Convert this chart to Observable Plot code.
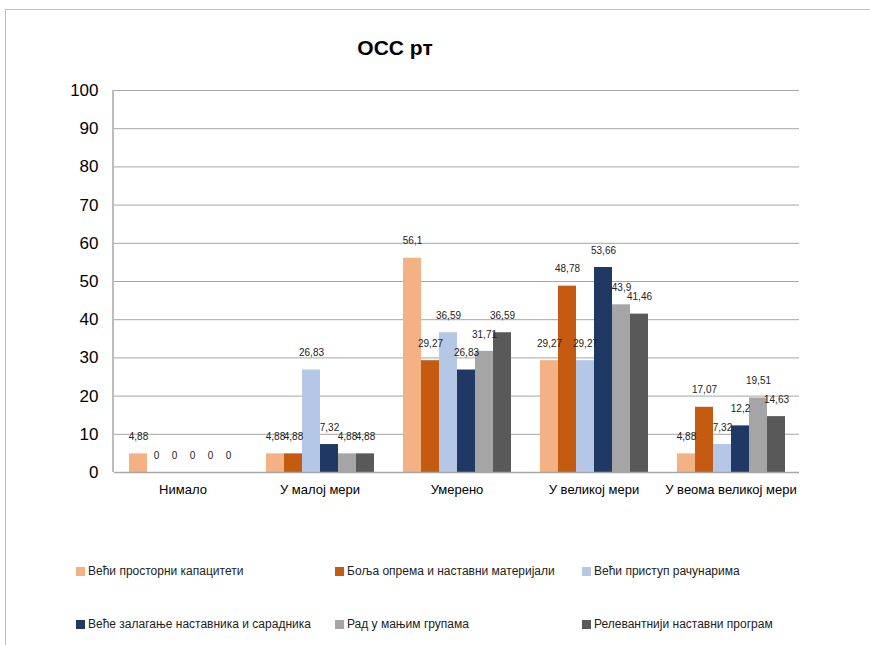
<!DOCTYPE html>
<html>
<head>
<meta charset="utf-8">
<script src="https://cdn.jsdelivr.net/npm/d3@7"></script>
<script src="https://cdn.jsdelivr.net/npm/@observablehq/plot@0.6"></script>
<style>
  html, body { margin: 0; padding: 0; background: #fff; }
  #wrap { position: relative; width: 870px; height: 645px; overflow: hidden; font-family: "Liberation Sans", Arial, sans-serif; }
  #border { position: absolute; left: 5px; top: 9px; right: -2px; bottom: -2px; border-top: 1px solid #BFBFBF; border-left: 1px solid #BFBFBF; }
  #title { position: absolute; left: 295px; width: 200px; top: 36px; text-align: center; font-weight: bold; font-size: 21px; color: #000; }
  #chart { position: absolute; left: 0; top: 0; }
  .leg { position: absolute; font-size: 12px; color: #222; white-space: nowrap; line-height: 14px; }
  .leg span.sw { display: inline-block; width: 9px; height: 9px; margin-right: 3px; vertical-align: -1px; }
</style>
</head>
<body>
<div id="wrap">
  <div id="border"></div>
  <div id="chart"></div>
  <div id="title">ОСС рт</div>
</div>
<script>
const categories = ["Нимало", "У малој мери", "Умерено", "У великој мери", "У веома великој мери"];
const seriesNames = [
  "Већи просторни капацитети",
  "Боља опрема и наставни материјали",
  "Већи приступ рачунарима",
  "Веће залагање наставника и сарадника",
  "Рад у мањим групама",
  "Релевантнији наставни програм"
];
const seriesColors = ["#F4B183", "#C55A11", "#B4C7E7", "#203864", "#A5A5A5", "#595959"];
const s1 = [4.88, 4.88, 56.1, 29.27, 4.88];
const s2 = [0, 4.88, 29.27, 48.78, 17.07];
const s3 = [0, 26.83, 36.59, 29.27, 7.32];
const s4 = [0, 7.32, 26.83, 53.66, 12.2];
const s5 = [0, 4.88, 31.71, 43.9, 19.51];
const s6 = [0, 4.88, 36.59, 41.46, 14.63];
const yTicks = [0, 10, 20, 30, 40, 50, 60, 70, 80, 90, 100];

const seriesValues = [s1, s2, s3, s4, s5, s6];
const data = [];
categories.forEach((c, i) => {
  seriesNames.forEach((s, j) => {
    data.push({cat: c, series: s, value: seriesValues[j][i]});
  });
});

const chart = Plot.plot({
  width: 870,
  height: 645,
  marginLeft: 113,
  marginRight: 70,
  marginTop: 90,
  marginBottom: 173,
  style: {fontFamily: '"Liberation Sans", Arial, sans-serif', background: "transparent", color: "#000"},
  fx: {domain: categories, padding: 0, label: null, axis: "bottom", tickSize: 0, tickPadding: 12, fontSize: 13},
  x: {domain: seriesNames, paddingInner: 0, paddingOuter: 0.78, axis: null},
  y: {domain: [0, 100], ticks: yTicks, label: null, tickSize: 0, tickPadding: 16, fontSize: 17, grid: false},
  color: {domain: seriesNames, range: seriesColors},
  marks: [
    Plot.ruleY(yTicks, {stroke: "#A6A6A6", strokeWidth: 1}),
    Plot.barY(data, {fx: "cat", x: "series", y: "value", fill: "series"}),
    Plot.ruleY([0], {stroke: "#A6A6A6", strokeWidth: 1.5}),
    Plot.text(data, {fx: "cat", x: "series", y: "value", text: d => String(d.value).replace(".", ","), dy: -17, fontSize: 10, fill: "#222"})
  ]
});
chart.style.fontSize = "13px";
document.getElementById("chart").appendChild(chart);

// left axis line drawn from the y scale
const yScale = chart.scale("y");
const svg = d3.select(chart);
svg.append("line")
  .attr("x1", 113).attr("x2", 113)
  .attr("y1", yScale.apply(100)).attr("y2", yScale.apply(0))
  .attr("stroke", "#A6A6A6").attr("stroke-width", 1.5);

// y tick label font size
svg.selectAll('[aria-label="y-axis tick label"] text, [aria-label="y-axis"] text').style("font-size", "17px");
svg.selectAll('[aria-label="fx-axis tick label"] text, [aria-label="fx-axis"] text').style("font-size", "13px");

// legend
const legPos = [[76, 564], [335, 564], [582, 564], [76, 617], [335, 617], [582, 617]];
const wrap = document.getElementById("wrap");
seriesNames.forEach((s, j) => {
  const d = document.createElement("div");
  d.className = "leg";
  d.style.left = legPos[j][0] + "px";
  d.style.top = legPos[j][1] + "px";
  d.innerHTML = `<span class="sw" style="background:${seriesColors[j]}"></span>${s}`;
  wrap.appendChild(d);
});
</script>
</body>
</html>
